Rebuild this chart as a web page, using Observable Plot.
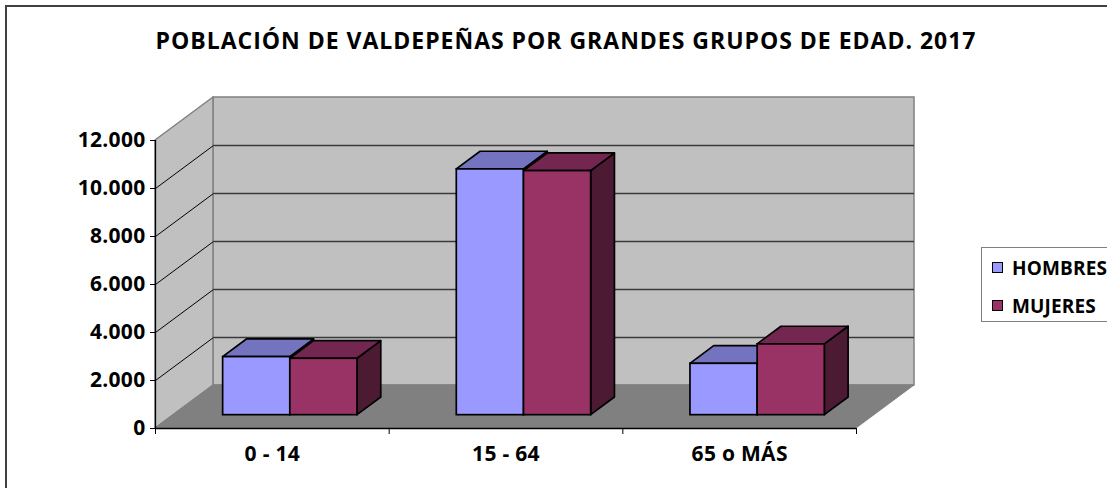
<!DOCTYPE html>
<html>
<head>
<meta charset="utf-8">
<script src="https://cdn.jsdelivr.net/npm/d3@7"></script>
<script src="https://cdn.jsdelivr.net/npm/@observablehq/plot@0.6"></script>
<style>
  html, body { margin: 0; padding: 0; background: #fff; }
  #chart { position: relative; width: 1107px; height: 488px; overflow: hidden; background: #fff;
           font-family: "Open Sans", sans-serif; font-weight: 700; color: #000; }
  #frame { position: absolute; left: 5px; top: 5px; width: 1300px; height: 700px;
           border: 2px solid #404040; box-sizing: border-box; }
  #plot { position: absolute; left: 0; top: 0; }
  #title { position: absolute; top: 29px; left: 0; width: 1132px; text-align: center;
           font-size: 23px; line-height: 23px; white-space: nowrap; }
  #legend { position: absolute; left: 981px; top: 247px; width: 200px; height: 75px;
            border: 1.5px solid #808080; box-sizing: border-box; background: #fff; }
  .sw { position: absolute; left: 10px; width: 11px; height: 11px; border: 1px solid #000; box-sizing: border-box; }
  .lt { position: absolute; left: 30px; font-size: 19px; line-height: 19px; white-space: nowrap; }
</style>
</head>
<body>
<div id="chart">
  <div id="frame"></div>
  <div id="plot"></div>
  <div id="title"><span id="titleText"></span></div>
  <div id="legend"></div>
</div>
<script>
// ---- data ----
const title = "POBLACIÓN DE VALDEPEÑAS POR GRANDES GRUPOS DE EDAD. 2017";
const categories = ["0 - 14", "15 - 64", "65 o MÁS"];
const series = ["HOMBRES", "MUJERES"];
const hombres = [2420, 10240, 2140];
const mujeres = [2350, 10170, 2950];
const yTicks = [0, 2000, 4000, 6000, 8000, 10000, 12000];

// ---- styles ----
const frontColors = ["#9999ff", "#993366"];
const topColors = ["#7373bf", "#732650"];
const sideColors = ["#4d4d80", "#4d1a33"];
const FONT = "'Open Sans', sans-serif";

// ---- 3D geometry, expressed in data units ----
const n = categories.length;
const yMax = d3.max(yTicks);
const depthX = 0.2482, depthY = 1792;   // offset of the back wall
const t0 = 0.31, tb = 0.41;             // bar front depth and bar thickness (fractions of depth)
const barW = 0.2875, gap = (1 - 2 * barW) / 2;

const valuesBySeries = [hombres, mujeres];
const bars = [];
categories.forEach((c, i) => valuesBySeries.forEach((vals, s) => {
  const x1 = i + gap + s * barW + t0 * depthX;
  bars.push({id: c + "|" + series[s], s, x1, x2: x1 + barW, base: t0 * depthY, top: vals[i] + t0 * depthY});
}));
const tops = bars.flatMap(b => [0, tb].map(t => ({id: b.id, s: b.s, y: b.top + t * depthY, x1: b.x1 + t * depthX, x2: b.x2 + t * depthX})));
const sides = bars.flatMap(b => [0, tb].map(t => ({id: b.id, s: b.s, x: b.x2 + t * depthX, y1: b.base + t * depthY, y2: b.top + t * depthY})));

const fmt = d => d3.format(",")(d).replace(/,/g, ".");
const inner = yTicks.filter(v => v > 0 && v < yMax);

const plot = Plot.plot({
  width: 1107, height: 488,
  marginLeft: 155, marginRight: 251, marginTop: 140, marginBottom: 60,
  x: {type: "linear", domain: [0, n]},
  y: {type: "linear", domain: [0, yMax]},
  color: {type: "identity"},
  style: {background: "transparent", fontFamily: FONT, fontWeight: "700", fontSize: "21px", color: "#000", overflow: "visible"},
  marks: [
    // back wall
    Plot.rect([0], {x1: () => depthX, x2: () => n + depthX, y1: () => depthY, y2: () => yMax + depthY,
                    fill: "#c0c0c0", stroke: "#808080", strokeWidth: 1.5}),
    Plot.ruleY(inner, {y: v => v + depthY, x1: () => depthX, x2: () => n + depthX, stroke: "#3a3a3a", strokeWidth: 1.3}),
    // side wall
    Plot.areaY([0, 1], {x: t => t * depthX, y1: t => t * depthY, y2: t => yMax + t * depthY,
                        fill: "#c0c0c0", stroke: "#808080", strokeWidth: 1.5}),
    Plot.link(inner, {x1: () => 0, y1: v => v, x2: () => depthX, y2: v => v + depthY, stroke: "#000", strokeWidth: 1}),
    // floor
    Plot.areaX([0, 1], {y: t => t * depthY, x1: t => t * depthX, x2: t => n + t * depthX,
                        fill: "#808080", stroke: "#808080", strokeWidth: 1}),
    // bars
    Plot.areaY(sides, {x: "x", y1: "y1", y2: "y2", z: "id", fill: d => sideColors[d.s], stroke: "#000", strokeWidth: 1.7}),
    Plot.areaX(tops, {y: "y", x1: "x1", x2: "x2", z: "id", fill: d => topColors[d.s], stroke: "#000", strokeWidth: 1.7}),
    Plot.rect(bars, {x1: "x1", x2: "x2", y1: "base", y2: "top", fill: d => frontColors[d.s], stroke: "#000", strokeWidth: 1.7}),
    // axes
    Plot.ruleX([0], {y1: () => 0, y2: () => yMax, stroke: "#000", strokeWidth: 1.3}),
    Plot.ruleY([0], {x1: () => 0, x2: () => n, stroke: "#000", strokeWidth: 1.3}),
    Plot.axisY({ticks: yTicks, tickFormat: fmt, tickSize: 5, tickPadding: 5, label: null, fontSize: 21, stroke: "#000"}),
    Plot.axisX({ticks: d3.range(n + 1), tickSize: 6, tickFormat: () => "", label: null, stroke: "#000"}),
    Plot.axisX({ticks: d3.range(n).map(i => i + 0.5), tickSize: 0, tickPadding: 18,
                tickFormat: d => categories[Math.floor(d)], label: null, fontSize: 21})
  ]
});
document.getElementById("plot").appendChild(plot);
plot.querySelectorAll("text").forEach(t => t.style.letterSpacing = "0.3px");

// title
const tEl = document.getElementById("titleText");
tEl.textContent = title;
const natural = tEl.getBoundingClientRect().width;
tEl.style.letterSpacing = ((821 - natural) / title.length) + "px";

// legend
const legend = document.getElementById("legend");
series.forEach((s, i) => {
  const sw = document.createElement("div");
  sw.className = "sw";
  sw.style.top = (14 + i * 38) + "px";
  sw.style.background = frontColors[i];
  legend.appendChild(sw);
  const lt = document.createElement("div");
  lt.className = "lt";
  lt.style.top = (11 + i * 38) + "px";
  lt.textContent = s;
  legend.appendChild(lt);
});
const lts = legend.querySelectorAll(".lt");
const mw = lts[1].getBoundingClientRect().width;
const ls = (84 - mw) / series[1].length;
lts.forEach(e => e.style.letterSpacing = ls + "px");
</script>
</body>
</html>
